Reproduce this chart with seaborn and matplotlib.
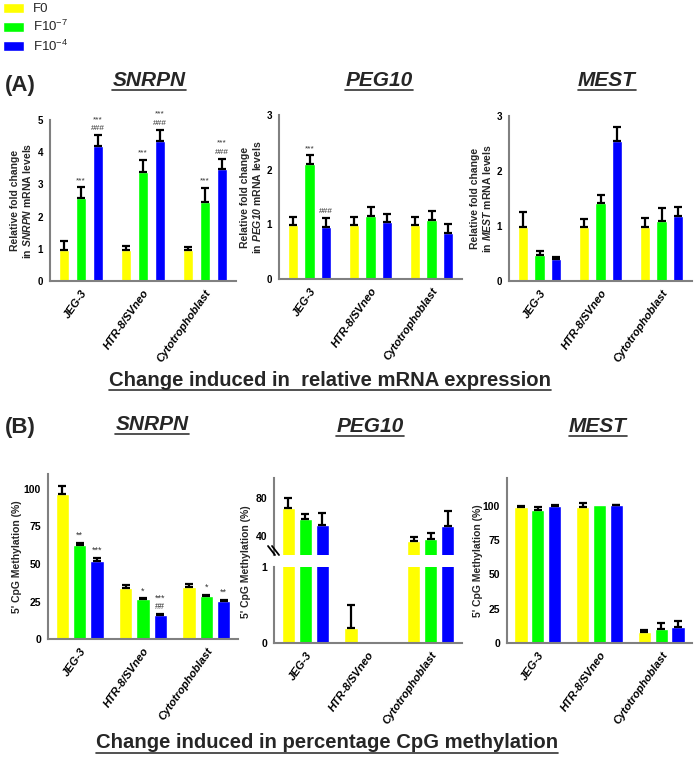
import matplotlib
matplotlib.use("Agg")
import matplotlib.pyplot as plt
import pandas as pd
import seaborn as sns
from matplotlib.patches import Patch
from matplotlib.lines import Line2D

cells = ["JEG-3", "HTR-8/SVneo", "Cytotrophoblast"]
groups = ["F0", "F10$^{\\mathsf{-7}}$", "F10$^{\\mathsf{-4}}$"]
colors = ["#FFFF00", "#00FF00", "#0000FF"]

# (A) relative fold change of mRNA; rows = groups, columns = cells
snrpn_mrna = [[0.97, 0.97, 0.97], [2.57, 3.40, 2.46], [4.20, 4.35, 3.47]]
snrpn_mrna_err = [[0.26, 0.11, 0.09], [0.35, 0.37, 0.44], [0.33, 0.35, 0.33]]
peg10_mrna = [[0.98, 0.98, 0.98], [2.10, 1.16, 1.08], [0.95, 1.05, 0.85]]
peg10_mrna_err = [[0.15, 0.15, 0.15], [0.17, 0.15, 0.16], [0.17, 0.14, 0.16]]
mest_mrna = [[0.98, 0.98, 0.98], [0.47, 1.42, 1.10], [0.40, 2.55, 1.18]]
mest_mrna_err = [[0.28, 0.14, 0.17], [0.08, 0.15, 0.22], [0.04, 0.25, 0.17]]

# (B) 5' CpG methylation (%)
snrpn_meth = [[97, 34, 35], [63, 26.5, 29], [52, 16, 25.5]]
snrpn_meth_err = [[5, 2, 2], [1, 0.6, 0.6], [2, 0.6, 0.6]]
peg10_meth = [[69.5, 0.2, 35], [58, 0, 36.5], [51.5, 0, 50.5]]
peg10_meth_err = [[10.5, 0.3, 4], [5, 0, 6.5], [13, 0, 15.5]]
mest_meth = [[99, 99, 8], [96.5, 100.5, 10.2], [100, 100.2, 11.4]]
mest_meth_err = [[0.5, 2.5, 1.2], [2.5, 0, 4.4], [0.5, 0.2, 4.4]]

# significance marks, (group, cell): lines from bottom to top
snrpn_mrna_sig = {(1, 0): ["***"], (2, 0): ["###", "***"], (1, 1): ["***"],
                  (2, 1): ["###", "***"], (1, 2): ["***"], (2, 2): ["###", "***"]}
peg10_mrna_sig = {(1, 0): ["***"], (2, 0): ["###"]}
snrpn_meth_sig = {(1, 0): ["**"], (2, 0): ["***"], (1, 1): ["*"],
                  (2, 1): ["##", "***"], (1, 2): ["*"], (2, 2): ["**"]}

sns.set_style("white")
plt.rcParams["font.family"] = ["Liberation Sans", "DejaVu Sans"]
plt.rcParams["mathtext.fontset"] = "custom"
plt.rcParams["mathtext.rm"] = "Liberation Sans:italic:bold"
plt.rcParams["mathtext.it"] = "Liberation Sans:italic:bold"
plt.rcParams["mathtext.sf"] = "Liberation Sans"

W, H = 700, 764
fig = plt.figure(figsize=(W / 100, H / 100), dpi=100)
GRAY = "#808080"
NARROW = ["Liberation Sans Narrow", "Liberation Sans", "DejaVu Sans"]


def box(l, t, r, b):
    return [l / W, 1 - b / H, (r - l) / W, (b - t) / H]


def to_df(vals):
    rows = []
    for gi, g in enumerate(groups):
        for ci, c in enumerate(cells):
            rows.append({"cell": c, "group": g, "value": vals[gi][ci]})
    return pd.DataFrame(rows)


def draw_bars(ax, vals, errs, width, gap, sig=None, sig_size=6):
    sns.barplot(data=to_df(vals), x="cell", y="value", hue="group",
                order=cells, hue_order=groups, palette=colors, saturation=1,
                width=width, gap=gap, errorbar=None, legend=False, ax=ax)
    bars = list(ax.containers)
    for gi, cont in enumerate(bars):
        for ci, p in enumerate(cont.patches):
            x = p.get_x() + p.get_width() / 2
            top, e = vals[gi][ci], errs[gi][ci]
            if e > 0:
                ax.errorbar(x, top, yerr=[[0], [e]], fmt="none", ecolor="black",
                            elinewidth=1.6, capsize=2.8, capthick=1.6)
            if sig and (gi, ci) in sig:
                for k, s in enumerate(sig[(gi, ci)]):
                    ax.annotate(s, (x, top + e), xytext=(0, 2 + 6.5 * k),
                                textcoords="offset points", ha="center", va="bottom",
                                fontsize=sig_size, color="#333333")


def style(ax, ylim, yticks, ysize, xlabels=True):
    ax.set_ylim(*ylim)
    ax.set_yticks(yticks)
    ax.set_xlim(-0.5, 2.5)
    ax.set_xlabel("")
    ax.set_ylabel("")
    sns.despine(ax=ax)
    for s in ["left", "bottom"]:
        ax.spines[s].set_color(GRAY)
        ax.spines[s].set_linewidth(1.5)
    ax.tick_params(axis="both", colors=GRAY, labelcolor="black", width=1.2, length=3,
                   pad=2)
    for lab in ax.get_yticklabels():
        lab.set_family(NARROW)
        lab.set_fontweight("bold")
        lab.set_fontsize(ysize)
    if xlabels:
        ax.set_xticks(range(3))
        ax.set_xticklabels(cells, rotation=55, ha="right", rotation_mode="anchor",
                           fontsize=8, fontweight="bold", fontstyle="italic")
    else:
        ax.set_xticks([])


# ---- row A ----
mrna_panels = [
    ("SNRPN", snrpn_mrna, snrpn_mrna_err, snrpn_mrna_sig, box(50, 120, 236, 281), 5, -0.09),
    ("PEG10", peg10_mrna, peg10_mrna_err, peg10_mrna_sig, box(279, 115, 462, 279), 3, -0.087),
    ("MEST", mest_mrna, mest_mrna_err, None, box(509, 116, 692, 281), 3, -0.087),
]
for gene, vals, errs, sig, pos, top, lx in mrna_panels:
    ax = fig.add_axes(pos)
    draw_bars(ax, vals, errs, 0.82, 0.4, sig)
    style(ax, (0, top), range(top + 1), 7)
    ax.set_ylabel("Relative fold change\nin $%s$ mRNA levels" % gene,
                  fontsize=7.5, fontweight="bold", linespacing=1.1)
    ax.yaxis.set_label_coords(lx, 0.5)

# ---- row B ----
ax = fig.add_axes(box(48, 474, 238, 639))
draw_bars(ax, snrpn_meth, snrpn_meth_err, 0.82, 0.22, snrpn_meth_sig, 6.5)
style(ax, (0, 110), [0, 25, 50, 75, 100], 7.5)
ax.set_ylabel("5' CpG Methylation (%)", fontsize=7.5, fontweight="bold")
ax.yaxis.set_label_coords(-0.135, 0.5)

ax_up = fig.add_axes(box(274, 478, 462, 555))
draw_bars(ax_up, peg10_meth, peg10_meth_err, 0.82, 0.22)
style(ax_up, (20, 101), [40, 80], 7.5, xlabels=False)
ax_up.spines["bottom"].set_visible(False)
ax_lo = fig.add_axes(box(274, 567, 462, 643))
draw_bars(ax_lo, peg10_meth, peg10_meth_err, 0.82, 0.22)
style(ax_lo, (0, 1), [0, 1], 7.5)
fig.text(246 / W, 1 - 562 / H, "5' CpG Methylation (%)", rotation=90, fontsize=7.5,
         fontweight="bold", ha="center", va="center")
for dx in (0, 4):
    fig.add_artist(Line2D([(268 + dx) / W, (275 + dx) / W], [1 - 546 / H, 1 - 555 / H],
                          color="black", lw=1.3))

ax = fig.add_axes(box(507, 478, 692, 643))
draw_bars(ax, mest_meth, mest_meth_err, 0.82, 0.22)
style(ax, (0, 120), [0, 25, 50, 75, 100], 7.5)
ax.set_ylabel("5' CpG Methylation (%)", fontsize=7.5, fontweight="bold")
ax.yaxis.set_label_coords(-0.13, 0.5)

# ---- titles, panel letters, captions, legend ----
underline = []
for gene, x, y in [("SNRPN", 149, 80), ("PEG10", 379, 80), ("MEST", 607, 80),
                   ("SNRPN", 152, 424), ("PEG10", 370, 426), ("MEST", 598, 426)]:
    underline.append(fig.text(x / W, 1 - y / H, gene, ha="center", va="center",
                              fontsize=15, fontweight="bold", fontstyle="italic"))
for s, x, y in [("Change induced in  relative mRNA expression", 330, 380),
                ("Change induced in percentage CpG methylation", 327, 743)]:
    underline.append(fig.text(x / W, 1 - y / H, s, ha="center", va="center",
                              fontsize=14.6, fontweight="bold"))
fig.text(5 / W, 1 - 85 / H, "(A)", fontsize=16, fontweight="bold", va="center")
fig.text(5 / W, 1 - 428 / H, "(B)", fontsize=16, fontweight="bold", va="center")

fig.legend(handles=[Patch(facecolor=c) for c in colors], labels=groups,
           loc="upper left", bbox_to_anchor=(0.0, 1.0), frameon=False, fontsize=9.5,
           handlelength=1.6, handleheight=0.8, handletextpad=0.7, labelspacing=0.3,
           borderaxespad=0.1, borderpad=0.1)

fig.canvas.draw()
renderer = fig.canvas.get_renderer()
for t in underline:
    bb = t.get_window_extent(renderer).transformed(fig.transFigure.inverted())
    fig.add_artist(Line2D([bb.x0, bb.x1], [bb.y0, bb.y0], color="#333333", lw=1.2))

fig.savefig("out.png", dpi=100)
